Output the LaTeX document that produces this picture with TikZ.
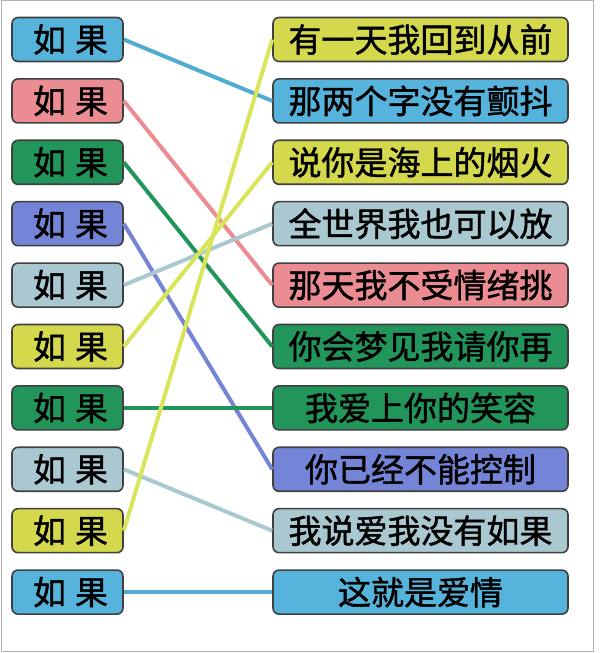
\documentclass[tikz,border=0pt]{standalone}
\usepackage{fontspec}
\newfontfamily\kai[FakeBold=1.3]{Noto Sans CJK SC}
\usepackage{tikz}

\definecolor{cblue}{RGB}{86,180,220}
\definecolor{cpink}{RGB}{234,140,146}
\definecolor{cgreen}{RGB}{34,150,90}
\definecolor{cpurple}{RGB}{116,132,214}
\definecolor{cgray}{RGB}{170,200,208}
\definecolor{cyellow}{RGB}{212,216,76}
\definecolor{lyellow}{RGB}{216,228,90}

\newcommand{\ruguo}{\hspace*{6pt}如\hspace{9pt}果}

\tikzset{
  ifbox/.style={draw=black!75, line width=1.6pt, rounded corners=6pt, fill=#1,
    minimum width=111pt, minimum height=44pt, inner sep=0pt,
    font=\kai\fontsize{33}{33}\selectfont},
  linebox/.style={ifbox=#1, minimum width=295pt},
  link/.style={line width=4pt, draw=#1}
}

\begin{document}
\begin{tikzpicture}[x=1pt, y=1pt, node distance={61.4pt}]
\useasboundingbox (0,0) rectangle (600,653);
\draw[black!30, line width=1pt] (1,1) rectangle (593,652);

\node[ifbox=cblue] (l1) at (67.5,613.5) {\ruguo};
\node[ifbox=cpink] (l2) [below of=l1] {\ruguo};
\node[ifbox=cgreen] (l3) [below of=l2] {\ruguo};
\node[ifbox=cpurple] (l4) [below of=l3] {\ruguo};
\node[ifbox=cgray] (l5) [below of=l4] {\ruguo};
\node[ifbox=cyellow] (l6) [below of=l5] {\ruguo};
\node[ifbox=cgreen] (l7) [below of=l6] {\ruguo};
\node[ifbox=cgray] (l8) [below of=l7] {\ruguo};
\node[ifbox=cyellow] (l9) [below of=l8] {\ruguo};
\node[ifbox=cblue] (l10) [below of=l9] {\ruguo};

\node[linebox=cyellow] (r1) at (420.5,613.5) {有一天我回到从前};
\node[linebox=cblue] (r2) [below of=r1] {那两个字没有颤抖};
\node[linebox=cyellow] (r3) [below of=r2] {说你是海上的烟火};
\node[linebox=cgray] (r4) [below of=r3] {全世界我也可以放};
\node[linebox=cpink] (r5) [below of=r4] {那天我不受情绪挑};
\node[linebox=cgreen] (r6) [below of=r5] {你会梦见我请你再};
\node[linebox=cgreen] (r7) [below of=r6] {我爱上你的笑容};
\node[linebox=cpurple] (r8) [below of=r7] {你已经不能控制};
\node[linebox=cgray] (r9) [below of=r8] {我说爱我没有如果};
\node[linebox=cblue] (r10) [below of=r9] {这就是爱情};

\draw[link=cblue!95!black] (l1.east) -- (r2.west);
\draw[link=cpink] (l2.east) -- (r5.west);
\draw[link=cgreen] (l3.east) -- (r6.west);
\draw[link=cpurple] (l4.east) -- (r8.west);
\draw[link=cgray] (l5.east) -- (r4.west);
\draw[link=lyellow] (l6.east) -- (r3.west);
\draw[link=cgreen] (l7.east) -- (r7.west);
\draw[link=cgray] (l8.east) -- (r9.west);
\draw[link=lyellow] (l9.east) -- (r1.west);
\draw[link=cblue!95!black] (l10.east) -- (r10.west);

\end{tikzpicture}
\end{document}
